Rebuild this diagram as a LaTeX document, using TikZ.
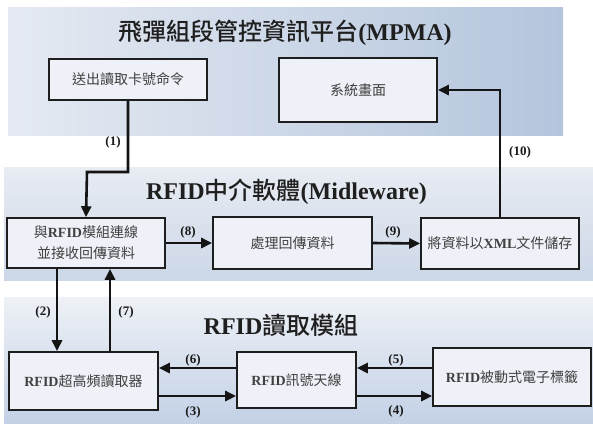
\documentclass[tikz,border=0pt]{standalone}
\usepackage{fontspec}
\setmainfont{Liberation Serif}
\newfontfamily\cjkfont{Noto Sans CJK TC}
\newfontfamily\cjktitle{Noto Sans CJK TC}[UprightFont=* Medium]
\usetikzlibrary{arrows.meta}
\definecolor{boxfill}{HTML}{EEF1F7}
\definecolor{boxline}{HTML}{1E1E1E}
\definecolor{boxtext}{HTML}{404040}
\definecolor{bandAleft}{HTML}{E5EAF2}
\definecolor{bandAright}{HTML}{B4C5DD}
\definecolor{bandBtop}{HTML}{E8ECF3}
\definecolor{bandBbottom}{HTML}{CCD7E7}
\definecolor{bandCtop}{HTML}{EEF1F6}
\definecolor{bandCbottom}{HTML}{C3D1E6}
\newcommand\titlezh[1]{{\cjktitle\mdseries #1}}
\tikzset{
  block/.style={draw=boxline, line width=1.6pt, fill=boxfill, text=boxtext,
    inner sep=0pt, align=center, font=\fontsize{14}{21}\selectfont},
  flow/.style={draw=black!92, line width=2.6pt,
    -{Triangle[length=11pt,width=10pt]}},
  steplabel/.style={font=\bfseries\fontsize{13}{15}\selectfont, text=black!90, inner sep=0pt},
  bandtitle/.style={font=\bfseries\fontsize{24}{28}\selectfont, text=black!88, inner sep=0pt},
}
\begin{document}
\begin{tikzpicture}[x=1pt,y=-1pt]
\useasboundingbox (0,0) rectangle (593,423);
\fill[white] (0,0) rectangle (593,423);

% layer backgrounds
\shade[left color=bandAleft, right color=bandAright] (8,7) rectangle (563,135);
\shade[top color=bandBtop, bottom color=bandBbottom] (4,167) rectangle (593,280);
\shade[top color=bandCtop, bottom color=bandCbottom] (4,297) rectangle (593,423);

% layer titles
\node[bandtitle] (tA) at (285,33) {\titlezh{飛彈組段管控資訊平台}(MPMA)};
\node[bandtitle] (tB) at (286.5,192) {RFID\titlezh{中介軟體}(Midleware)};
\node[bandtitle] (tC) at (281,325) {RFID\titlezh{讀取模組}};

% MPMA layer
\node[block, minimum width=158pt, minimum height=41pt] (send) at (128,79.5) {\cjkfont 送出讀取卡號命令};
\node[block, minimum width=158pt, minimum height=64pt] (sys) at (358,90) {\cjkfont 系統畫面};

% middleware layer
\node[block, minimum width=158pt, minimum height=50pt] (conn) at (86,243)
  {{\cjkfont 與}\textbf{RFID}{\cjkfont 模組連線}\\{\cjkfont 並接收回傳資料}};
\node[block, minimum width=159pt, minimum height=52pt] (proc) at (292.5,243) {\cjkfont 處理回傳資料};
\node[block, minimum width=158pt, minimum height=51pt] (xml) at (500,243.5)
  {{\cjkfont 將資料以}\textbf{XML}{\cjkfont 文件儲存}};

% reader layer
\node[block, minimum width=149pt, minimum height=58pt] (reader) at (83.5,381)
  {\textbf{RFID}{\cjkfont 超高頻讀取器}};
\node[block, minimum width=119pt, minimum height=56pt] (ant) at (296.5,380)
  {\textbf{RFID}{\cjkfont 訊號天線}};
\node[block, minimum width=158pt, minimum height=58pt] (tag) at (512,377)
  {\textbf{RFID}{\cjkfont 被動式電子標籤}};

% connector routing points
\coordinate (j1) at (87,172);
\coordinate (c2) at (57,0);
\coordinate (c7) at (110,0);
\coordinate (yA) at (0,368);
\coordinate (yB) at (0,396);

% connectors
\draw[flow] (send.south) |- (j1) -- (conn.north);
\draw[flow] (xml.north) |- (sys.east);
\draw[flow] (conn.east) -- (proc.west);
\draw[flow] (proc.east) -- (xml.west);
\draw[flow] (conn.south -| c2) -- (reader.north -| c2);
\draw[flow] (reader.north -| c7) -- (conn.south -| c7);
\draw[flow] (ant.west |- yA) -- (reader.east |- yA);
\draw[flow] (reader.east |- yB) -- (ant.west |- yB);
\draw[flow] (tag.west |- yA) -- (ant.east |- yA);
\draw[flow] (ant.east |- yB) -- (tag.west |- yB);

% step labels
\node[steplabel] (l1) at (113,142) {(1)};
\node[steplabel] (l2) at (43,312) {(2)};
\node[steplabel] (l3) at (193,412) {(3)};
\node[steplabel] (l4) at (396,411) {(4)};
\node[steplabel] (l5) at (396,360) {(5)};
\node[steplabel] (l6) at (193,360) {(6)};
\node[steplabel] (l7) at (126,312) {(7)};
\node[steplabel] (l8) at (188,232) {(8)};
\node[steplabel] (l9) at (393,232) {(9)};
\node[steplabel] (l10) at (520,152) {(10)};
\end{tikzpicture}
\end{document}
